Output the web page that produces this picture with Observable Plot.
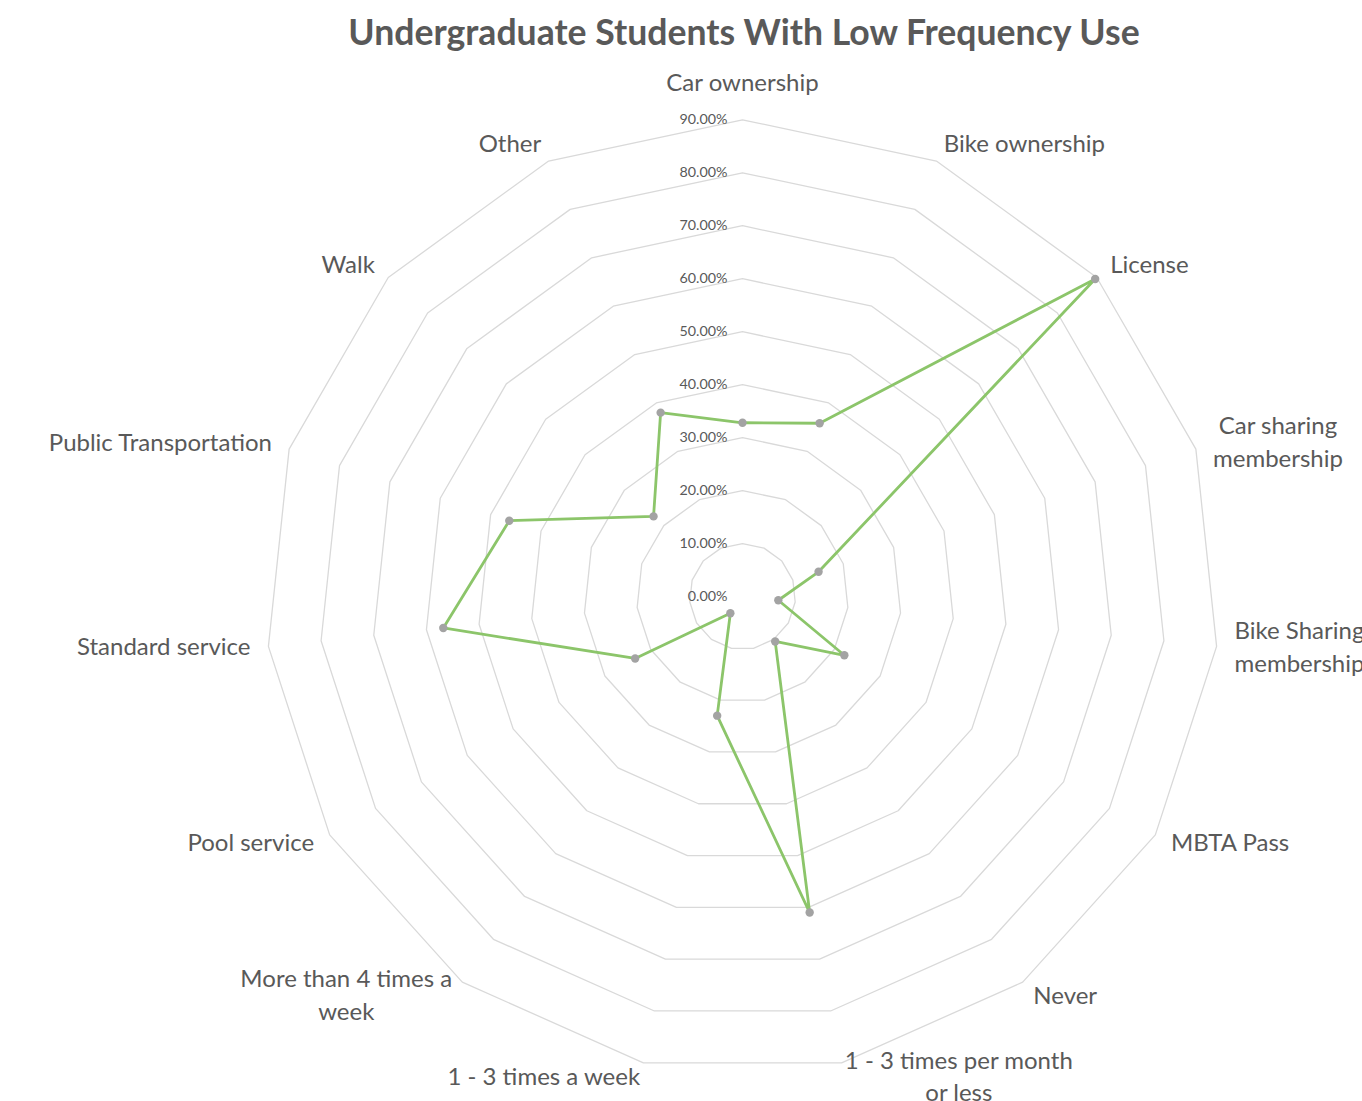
<!DOCTYPE html>
<html>
<head>
<meta charset="utf-8">
<script src="https://cdn.jsdelivr.net/npm/d3@7"></script>
<script src="https://cdn.jsdelivr.net/npm/@observablehq/plot@0.6"></script>
<style>
  body { margin: 0; background: #fff; width: 1362px; overflow: hidden; }
  #title { position: relative; height: 60px; }
  #title span { position: absolute; left: 744px; top: 0; transform: translateX(-50%); white-space: nowrap;
    font-family: Lato, "Open Sans", sans-serif; font-weight: bold; font-size: 35.6px; line-height: 64px; color: #595959; }
</style>
</head>
<body>
<div id="title"><span>Undergraduate Students With Low Frequency Use</span></div>
<div id="chart"></div>
<script>
// ---- data ----
const categories = [
  "Car ownership", "Bike ownership", "License", "Car sharing\nmembership",
  "Bike Sharing\nmembership", "MBTA Pass", "Never", "1 - 3 times per month\nor less",
  "1 - 3 times a week", "More than 4 times a\nweek", "Pool service", "Standard service",
  "Public Transportation", "Walk", "Other"
];
const values = [32.8, 35.8, 89.6, 15.1, 6.8, 22.2, 10.5, 61.0, 23.0, 3.9, 23.4, 56.8, 46.3, 22.6, 38.0];
const ticks = [0, 10, 20, 30, 40, 50, 60, 70, 80, 90];
const tickLabels = ["0.00%", "10.00%", "20.00%", "30.00%", "40.00%", "50.00%", "60.00%", "70.00%", "80.00%", "90.00%"];

// ---- layout ----
const W = 1362, H = 1041;
const cx = 742, cy = 536, R = 476.7;
const maxV = d3.max(ticks);
const pxPerUnit = R / maxV;
const n = categories.length;
const angle = i => i * 2 * Math.PI / n;

const rings = ticks.filter(t => t > 0).flatMap(t =>
  categories.map((c, i) => ({ring: t, x: t * Math.sin(angle(i)), y: t * Math.cos(angle(i))})));
const series = categories.map((c, i) => ({c, v: values[i], x: values[i] * Math.sin(angle(i)), y: values[i] * Math.cos(angle(i))}));
const labelRows = categories.map((c, i) => {
  const a = angle(i);
  const s = Math.sin(a), co = Math.cos(a);
  const side = s > 0.1 ? "right" : s < -0.1 ? "left" : "top";
  const gap = side === "top" ? 36 : co < -0.9 ? 15.5 : 18;
  const r = maxV + gap / pxPerUnit;
  return {c, side, x: r * Math.sin(a), y: r * Math.cos(a)};
});
const tickRows = ticks.map((t, i) => ({t, label: tickLabels[i]}));

const labelStyle = {fontSize: 24, fill: "#595959", lineHeight: 1.37, lineAnchor: "middle", dy: -3.5};

const chart = Plot.plot({
  width: W, height: H, margin: 0,
  x: {domain: [-maxV, maxV], range: [cx - R, cx + R], axis: null},
  y: {domain: [-maxV, maxV], range: [cy + R, cy - R], axis: null},
  style: {fontFamily: "Lato, 'Open Sans', sans-serif", background: "#fff", overflow: "visible"},
  marks: [
    Plot.line(rings, {x: "x", y: "y", z: "ring", curve: "linear-closed", stroke: "#d9d9d9", strokeWidth: 1.3}),
    Plot.line(series, {x: "x", y: "y", curve: "linear-closed", stroke: "#8cc56a", strokeWidth: 2.8}),
    Plot.dot(series, {x: "x", y: "y", r: 4.2, fill: "#a3a3a3", stroke: "none"}),
    Plot.text(tickRows, {x: d => 0, y: "t", text: "label", textAnchor: "end", dx: -15, lineAnchor: "middle", fontSize: 14.3, fill: "#595959"}),
    Plot.text(labelRows.filter(d => d.side === "top"), {x: "x", y: "y", text: "c", textAnchor: "middle", ...labelStyle}),
    Plot.text(labelRows.filter(d => d.side === "right"), {x: "x", y: "y", text: "c", textAnchor: "start", ...labelStyle}),
    Plot.text(labelRows.filter(d => d.side === "left"), {x: "x", y: "y", text: "c", textAnchor: "end", ...labelStyle})
  ]
});
document.getElementById("chart").append(chart);

// center the lines of multi-line category labels within their block
chart.querySelectorAll("text").forEach(t => {
  const tsp = t.querySelectorAll("tspan");
  if (tsp.length > 1) {
    const bb = t.getBBox();
    const mid = bb.x + bb.width / 2;
    t.setAttribute("text-anchor", "middle");
    tsp.forEach(s => s.setAttribute("x", mid));
  }
});
</script>
</body>
</html>
